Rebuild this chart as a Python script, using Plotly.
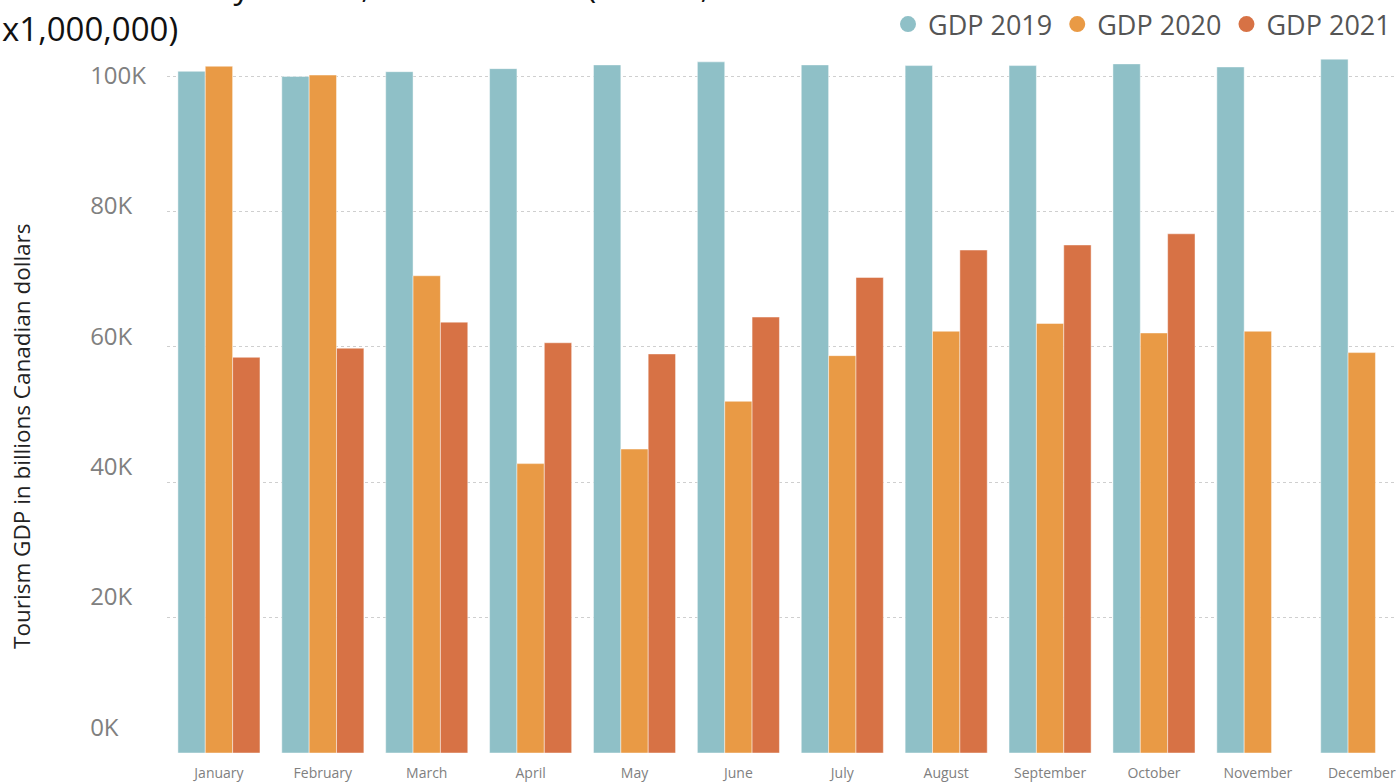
import plotly.graph_objects as go

# Monthly tourism GDP, millions of dollars
months = ["January", "February", "March", "April", "May", "June",
          "July", "August", "September", "October", "November", "December"]
gdp_2019 = [100700, 99950, 100650, 101100, 101650, 102100,
            101650, 101550, 101550, 101800, 101350, 102500]
gdp_2020 = [101450, 100150, 70500, 42750, 44900, 51950,
            58700, 62300, 63450, 62050, 62300, 59150]
gdp_2021 = [58450, 59800, 63650, 60600, 58950, 64400,
            70250, 74300, 75050, 76700, None, None]

series = [("GDP 2019", gdp_2019, "#8FC0C7"),
          ("GDP 2020", gdp_2020, "#E99A45"),
          ("GDP 2021", gdp_2021, "#D77245")]

tick_vals = [0, 20000, 40000, 60000, 80000, 100000]
# figure space keeps the short labels flush-left with "100K"
tick_text = ["0K\u2007\u2007", "20K\u2007", "40K\u2007", "60K\u2007", "80K\u2007", "100K"]

FONT = "Segoe UI, Open Sans, sans-serif"
PLOT_LEFT, PLOT_W = 167, 1396 - 167
PLOT_BOTTOM, PLOT_H = 756, 756 - 48

fig = go.Figure()
for name, vals, color in series:
    fig.add_trace(go.Bar(
        x=months, y=vals, name=name, showlegend=False,
        marker=dict(color=color, line=dict(color="rgba(255,255,255,0.45)", width=1)),
    ))
# circular legend markers
for name, vals, color in series:
    fig.add_trace(go.Scatter(
        x=[None], y=[None], mode="markers", name=name, yaxis="y2",
        marker=dict(symbol="circle", size=19, color=color),
    ))

fig.update_layout(
    width=1396, height=782,
    margin=dict(l=PLOT_LEFT, r=0, t=48, b=26),
    paper_bgcolor="white", plot_bgcolor="white",
    barmode="group", bargap=0.21, bargroupgap=0,
    font=dict(family=FONT, color="#777777"),
    legend=dict(
        orientation="h", x=1, xref="container", xanchor="right",
        y=1, yref="container", yanchor="top",
        font=dict(family=FONT, size=27, color="#555555"),
        itemwidth=30, itemsizing="trace",
        bgcolor="rgba(0,0,0,0)",
    ),
    xaxis=dict(
        range=[-0.5, 11.32], showgrid=False, zeroline=False, showline=False,
        ticks="", tickfont=dict(size=14, color="#808080"),
        ticklabelstandoff=10,
    ),
    yaxis=dict(
        range=[0, 104000], tickvals=tick_vals, showticklabels=False,
        showgrid=True, gridcolor="#CFCFCF", griddash="dot", gridwidth=1,
        zeroline=True, zerolinecolor="white", zerolinewidth=2,
        showline=False, ticks="",
    ),
    yaxis2=dict(
        overlaying="y", side="left",
        range=[-3969, 104106], tickvals=tick_vals, ticktext=tick_text,
        showgrid=False, zeroline=False, showline=False, ticks="",
        tickfont=dict(size=24, color="#808080"),
        ticklabelstandoff=20,
    ),
    annotations=[
        dict(
            text="Tourism GDP by month, 2019 to 2021 (dollars,<br>x1,000,000)",
            xref="paper", yref="paper",
            x=-PLOT_LEFT / PLOT_W, y=(PLOT_BOTTOM - 52) / PLOT_H,
            xanchor="left", yanchor="bottom", align="left", showarrow=False,
            font=dict(family=FONT, size=33, color="#111111"),
        ),
        dict(
            text="Tourism GDP in billions Canadian dollars", textangle=-90,
            xref="paper", yref="paper",
            x=(22 - PLOT_LEFT) / PLOT_W, y=(PLOT_BOTTOM - 438) / PLOT_H,
            xanchor="center", yanchor="middle", showarrow=False,
            font=dict(family=FONT, size=22.5, color="#222222"),
        ),
    ],
)

fig.write_html("out.html")
